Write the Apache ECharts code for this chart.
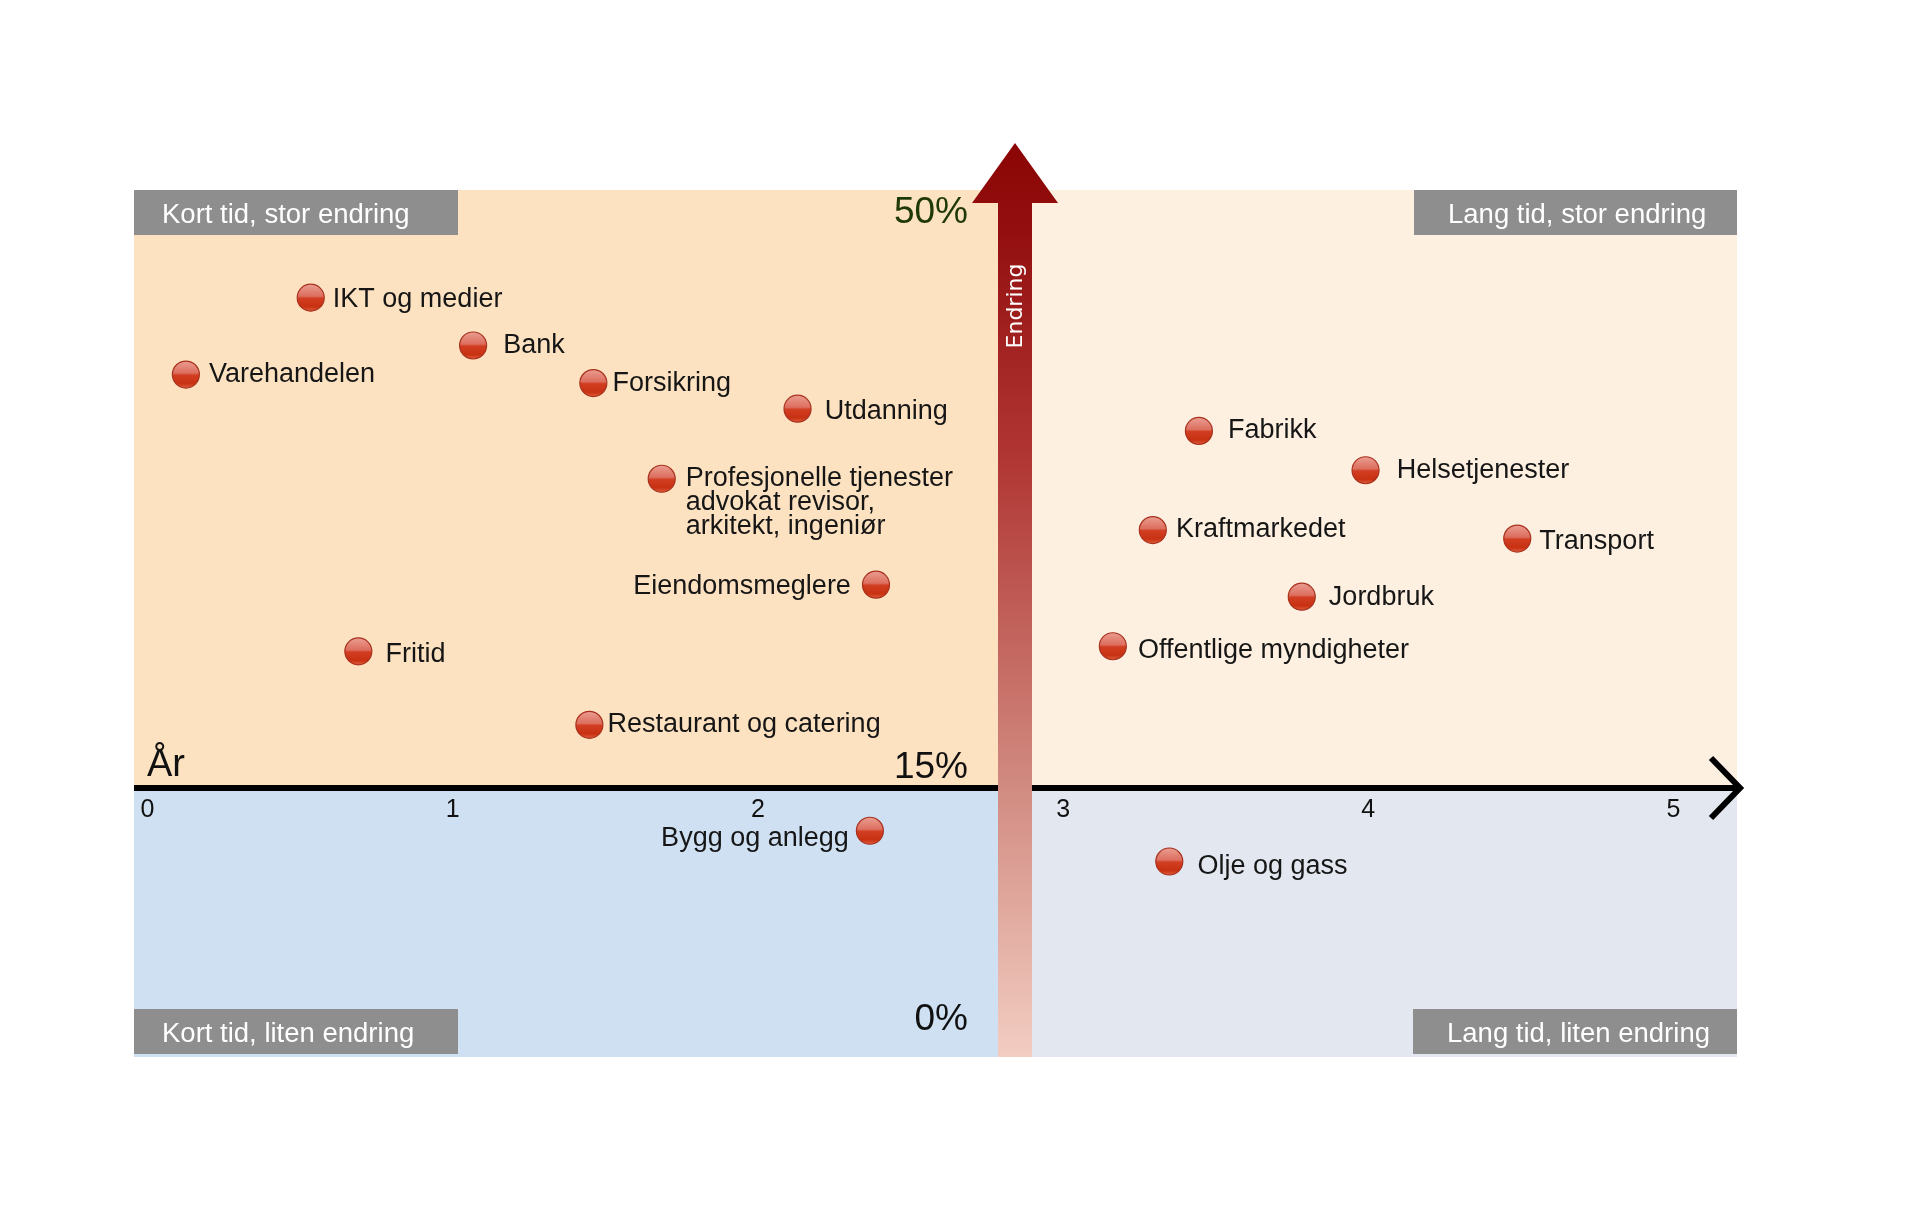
<!DOCTYPE html>
<html>
<head>
<meta charset="utf-8">
<script src="https://cdn.jsdelivr.net/npm/echarts@6/dist/echarts.min.js"></script>
<style>
  html, body { margin: 0; padding: 0; background: #ffffff; }
  #chart { width: 1920px; height: 1223px; }
</style>
</head>
<body>
<div id="chart"></div>
<script>
// ---------- data ----------
const sectors = [
  'IKT og medier', 'Bank', 'Varehandelen', 'Forsikring', 'Utdanning',
  'Profesjonelle tjenester\nadvokat revisor,\narkitekt, ingeniør',
  'Eiendomsmeglere', 'Fritid', 'Restaurant og catering', 'Bygg og anlegg',
  'Fabrikk', 'Helsetjenester', 'Kraftmarkedet', 'Transport', 'Jordbruk',
  'Offentlige myndigheter', 'Olje og gass'
];
const years = [0.535, 1.067, 0.126, 1.461, 2.130, 1.685, 2.387, 0.691, 1.448, 2.367,
               3.445, 3.991, 3.294, 4.488, 3.782, 3.163, 3.348];
const changePct = [43.7, 40.9, 39.2, 38.7, 37.2, 33.1, 26.9, 23.0, 18.7, 12.5,
                   35.9, 33.6, 30.1, 29.6, 26.2, 23.3, 10.7];
const xTicks = [0, 1, 2, 3, 4, 5];
const quadrantTitles = ['Kort tid, stor endring', 'Lang tid, stor endring', 'Kort tid, liten endring', 'Lang tid, liten endring'];
const pctLabels = ['50%', '15%', '0%'];

// ---------- scale / layout config ----------
const X_MIN = -0.044, X_MAX = 5.208, SPLIT_X = 2.842;
const Y_MIN = -0.74, Y_MAX = 50, AXIS_Y = 15;
const FONT = '"Liberation Sans", Arial, Helvetica, sans-serif';

// label placement per sector (style only): [position, distance, dy]
const labelPlacement = {
  'IKT og medier': ['right', 8, 2],
  'Bank': ['right', 16, 0],
  'Varehandelen': ['right', 9, 0],
  'Forsikring': ['right', 5, 0],
  'Utdanning': ['right', 13, 3],
  'Profesjonelle tjenester\nadvokat revisor,\narkitekt, ingeniør': ['right', 10, 24],
  'Eiendomsmeglere': ['left', 11, 2],
  'Fritid': ['right', 13, 3],
  'Restaurant og catering': ['right', 4, 0],
  'Bygg og anlegg': ['left', 7, 8],
  'Fabrikk': ['right', 15, 0],
  'Helsetjenester': ['right', 17, 0],
  'Kraftmarkedet': ['right', 9, 0],
  'Transport': ['right', 8, 3],
  'Jordbruk': ['right', 13, 1],
  'Offentlige myndigheter': ['right', 11, 4],
  'Olje og gass': ['right', 14, 5]
};

const ballColor = new echarts.graphic.LinearGradient(0, 0, 0, 1, [
  { offset: 0, color: '#EBA094' },
  { offset: 0.45, color: '#DC6E5E' },
  { offset: 0.52, color: '#D23E22' },
  { offset: 0.82, color: '#C83112' },
  { offset: 1, color: '#E36443' }
]);

const points = sectors.map((name, i) => {
  const p = labelPlacement[name] || ['right', 10, 0];
  return {
    name: name,
    value: [years[i], changePct[i]],
    label: { position: p[0], distance: p[1], offset: [0, p[2]] }
  };
});

const chart = echarts.init(document.getElementById('chart'), null, { renderer: 'canvas' });

const arrowFill = new echarts.graphic.LinearGradient(0, 0, 0, 1, [
  { offset: 0, color: '#8A0504' },
  { offset: 0.1, color: '#941010' },
  { offset: 0.35, color: '#B13734' },
  { offset: 0.7, color: '#D18A80' },
  { offset: 1, color: '#F3CDC2' }
]);

function boxGroup(x, y, w, h, text, textX) {
  return {
    type: 'group', z: 60,
    children: [
      { type: 'rect', shape: { x: x, y: y, width: w, height: h }, style: { fill: '#8E8E8E' }, z: 60 },
      { type: 'text', x: textX, y: y + h / 2 + 3, z: 61,
        style: { text: text, fill: '#ffffff', fontSize: 27.5, fontFamily: FONT,
                 textAlign: 'left', align: 'left', textVerticalAlign: 'middle', verticalAlign: 'middle' } }
    ]
  };
}
function plainText(x, y, text, size, color, align) {
  return { type: 'text', x: x, y: y, z: 60,
    style: { text: text, fill: color, fontSize: size, fontFamily: FONT,
             textAlign: align, align: align, textVerticalAlign: 'middle', verticalAlign: 'middle' } };
}

const option = {
  animation: false,
  backgroundColor: '#ffffff',
  grid: { left: 134, right: 183, top: 190, bottom: 166, containLabel: false },
  xAxis: {
    type: 'value', min: X_MIN, max: X_MAX, position: 'bottom', offset: -269, z: 30,
    axisLine: { show: false, onZero: false },
    axisTick: { show: false },
    splitLine: { show: false },
    axisLabel: {
      customValues: xTicks, margin: 10, color: '#111111', fontSize: 25, fontFamily: FONT,
      formatter: v => String(v)
    }
  },
  yAxis: {
    type: 'value', min: Y_MIN, max: Y_MAX,
    axisLine: { show: false }, axisTick: { show: false }, splitLine: { show: false }, axisLabel: { show: false }
  },
  series: [{
    type: 'scatter',
    clip: false,
    symbol: 'circle',
    symbolSize: 27,
    z: 10,
    itemStyle: { color: ballColor, borderColor: '#A8311E', borderWidth: 1.2, opacity: 1 },
    label: {
      show: true, formatter: '{b}', color: '#161616', fontSize: 27, fontFamily: FONT, lineHeight: 24
    },
    emphasis: { disabled: true },
    data: points,
    markArea: {
      silent: true,
      z: 1,
      label: { show: false },
      data: [
        [{ coord: [X_MIN, AXIS_Y], itemStyle: { color: '#FDE2C1' } }, { coord: [SPLIT_X, Y_MAX] }],
        [{ coord: [SPLIT_X, AXIS_Y], itemStyle: { color: '#FEF0E0' } }, { coord: [X_MAX, Y_MAX] }],
        [{ coord: [X_MIN, Y_MIN], itemStyle: { color: '#CEE0F1' } }, { coord: [SPLIT_X, AXIS_Y] }],
        [{ coord: [SPLIT_X, Y_MIN], itemStyle: { color: '#E3E8F0' } }, { coord: [X_MAX, AXIS_Y] }]
      ]
    },
    markLine: {
      silent: true,
      z: 5,
      symbol: ['none', 'none'],
      label: { show: false },
      lineStyle: { color: '#000000', width: 6, type: 'solid' },
      data: [[{ coord: [X_MIN, AXIS_Y] }, { coord: [X_MAX, AXIS_Y] }]]
    }
  }],
  graphic: [
    // axis end (joins the axis line) and chevron
    { type: 'line', z: 40, shape: { x1: 1730, y1: 788, x2: 1738, y2: 788 },
      style: { stroke: '#000000', lineWidth: 6 } },
    { type: 'polyline', z: 40, shape: { points: [[1711, 758], [1740, 788], [1711, 818]] },
      style: { stroke: '#000000', lineWidth: 6, fill: null, lineJoin: 'miter' } },
    // vertical arrow
    { type: 'polygon', z: 50,
      shape: { points: [[1015, 143], [1058, 203], [1032, 203], [1032, 1057], [998, 1057], [998, 203], [972, 203]] },
      style: { fill: arrowFill } },
    { type: 'text', x: 1016, y: 306, rotation: Math.PI / 2, z: 51,
      style: { text: 'Endring', fill: '#ffffff', fontSize: 22, fontFamily: '"DejaVu Sans", sans-serif',
               textAlign: 'center', align: 'center', textVerticalAlign: 'middle', verticalAlign: 'middle' } },
    boxGroup(134, 190, 324, 45, quadrantTitles[0], 162),
    boxGroup(1414, 190, 323, 45, quadrantTitles[1], 1448),
    boxGroup(134, 1009, 324, 45, quadrantTitles[2], 162),
    boxGroup(1413, 1009, 324, 45, quadrantTitles[3], 1447),
    plainText(968, 213, pctLabels[0], 37, '#1E3808', 'right'),
    plainText(968, 768, pctLabels[1], 37, '#111111', 'right'),
    plainText(968, 1020, pctLabels[2], 37, '#111111', 'right'),
    plainText(147, 766, 'År', 38, '#111111', 'left')
  ]
};

chart.setOption(option);
</script>
</body>
</html>
